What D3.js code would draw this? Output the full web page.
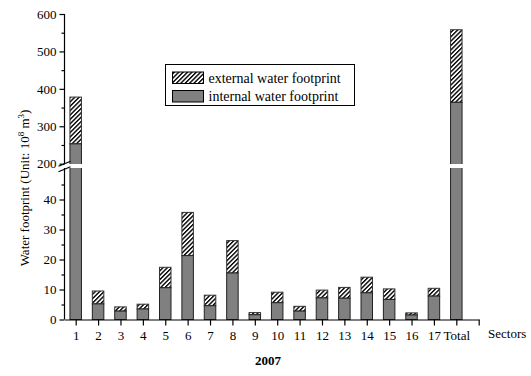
<!DOCTYPE html>
<html>
<head>
<meta charset="utf-8">
<script src="https://cdn.jsdelivr.net/npm/d3@7"></script>
<style>
  body { margin: 0; background: #fff; }
  svg text { font-family: "Liberation Serif", "Times New Roman", serif !important; fill: #000; }
</style>
</head>
<body>
<div id="canvas"></div>
<script>
// sector labels, position 19 is an empty end tick
var sectors = ["1","2","3","4","5","6","7","8","9","10","11","12","13","14","15","16","17","Total"];
var internalWF = [253, 5.2, 2.8, 3.5, 10.6, 21.3, 4.6, 15.5, 1.6, 5.6, 2.8, 7.2, 7.1, 8.9, 6.7, 1.5, 7.8, 364];
var totalWF    = [378, 9.5, 4.2, 5.1, 17.4, 35.7, 8.1, 26.3, 2.3, 9.1, 4.4, 9.8, 10.7, 14.1, 10.2, 2.2, 10.4, 558];
var lowTicks = [0, 10, 20, 30, 40];
var highTicks = [200, 300, 400, 500, 600];

var mydata = sectors.map(function(s, i){
	return {name: s, pos: i + 1, internal: internalWF[i], total: totalWF[i]};
});

draw();

function draw(){
	var w = 531, h = 376;
	var svg = d3.select("#canvas").append("svg")
				.attr("width", w)
				.attr("height", h);

	var x0 = 64.5, yBase = 319.5;
	var xScale = d3.scaleLinear().domain([0.5, 19]).range([x0, 478.7]);
	var yLow = d3.scaleLinear().domain([0, 50.5]).range([yBase, 168]);
	var yHigh = d3.scaleLinear().domain([199.2, 600]).range([164, 14]);
	var barW = 11.5;

	var defs = svg.append("defs");
	var pat = defs.append("pattern")
		.attr("id", "hatch")
		.attr("patternUnits", "userSpaceOnUse")
		.attr("width", 3.1).attr("height", 3.1)
		.attr("patternTransform", "rotate(45)");
	pat.append("rect").attr("width", 3.1).attr("height", 3.1).attr("fill", "#fff");
	pat.append("line").attr("x1", 0.7).attr("y1", 0).attr("x2", 0.7).attr("y2", 3.1)
		.attr("stroke", "#000").attr("stroke-width", 1.4);

	defs.append("clipPath").attr("id", "clipLow")
		.append("rect").attr("x", 0).attr("y", 168).attr("width", w).attr("height", yBase - 168 + 1);
	defs.append("clipPath").attr("id", "clipHigh")
		.append("rect").attr("x", 0).attr("y", 0).attr("width", w).attr("height", 164);

	// bars, drawn once per axis segment and clipped
	[[yLow, "clipLow"], [yHigh, "clipHigh"]].forEach(function(seg){
		var y = seg[0];
		var g = svg.append("g").attr("clip-path", "url(#" + seg[1] + ")");
		var bars = g.selectAll("g").data(mydata).join("g");
		bars.append("rect")
			.attr("x", function(d){ return xScale(d.pos) - barW / 2; })
			.attr("y", function(d){ return y(d.total); })
			.attr("width", barW)
			.attr("height", function(d){ return y(d.internal) - y(d.total); })
			.attr("fill", "url(#hatch)")
			.attr("stroke", "#333").attr("stroke-width", 1);
		bars.append("rect")
			.attr("x", function(d){ return xScale(d.pos) - barW / 2; })
			.attr("y", function(d){ return y(d.internal); })
			.attr("width", barW)
			.attr("height", function(d){ return Math.max(0, yBase - y(d.internal)); })
			.attr("fill", "#808080")
			.attr("stroke", "#222").attr("stroke-width", 1);
	});

	// y axis, lower part
	var axLow = svg.append("g").attr("transform", "translate(" + x0 + ",0)")
		.call(d3.axisLeft(yLow).tickValues(lowTicks).tickSize(5).tickPadding(3).tickSizeOuter(0));
	svg.append("g").attr("transform", "translate(" + x0 + ",0)")
		.call(d3.axisLeft(yLow).tickValues([5, 15, 25, 35, 45]).tickSize(3).tickFormat("").tickSizeOuter(0))
		.select(".domain").remove();
	// y axis, upper part
	var axHigh = svg.append("g").attr("transform", "translate(" + x0 + ",0)")
		.call(d3.axisLeft(yHigh).tickValues(highTicks).tickSize(5).tickPadding(3).tickSizeOuter(0));
	svg.append("g").attr("transform", "translate(" + x0 + ",0)")
		.call(d3.axisLeft(yHigh).tickValues([250, 350, 450, 550]).tickSize(3).tickFormat("").tickSizeOuter(0))
		.select(".domain").remove();
	[axLow, axHigh].forEach(function(a){
		a.attr("font-family", null).attr("font-size", 13);
		a.selectAll("path, line").attr("stroke", "#000").attr("stroke-width", 1.2);
	});
	axLow.select(".domain").attr("d", "M0," + yBase + "V168");
	axHigh.select(".domain").attr("d", "M0,164V14");
	svg.selectAll(".tick line").attr("stroke", "#000").attr("stroke-width", 1.2);

	// break marks
	[163.8, 169.3].forEach(function(yy){
		svg.append("line")
			.attr("x1", x0 - 6).attr("y1", yy + 2.5)
			.attr("x2", x0 + 6).attr("y2", yy - 2.5)
			.attr("stroke", "#000").attr("stroke-width", 1.2);
	});

	// x axis
	var xAxis = svg.append("g").attr("transform", "translate(0," + yBase + ")")
		.call(d3.axisBottom(xScale)
			.tickValues(d3.range(1, 20))
			.tickSize(6).tickPadding(5).tickSizeOuter(0)
			.tickFormat(function(v){ return v <= sectors.length ? sectors[v - 1] : ""; }));
	xAxis.attr("font-family", null).attr("font-size", 13);
	xAxis.selectAll("path, line").attr("stroke", "#000").attr("stroke-width", 1.2);

	svg.append("text").attr("x", 488).attr("y", 338)
		.style("font-size", "13px").text("Sectors");
	svg.append("text").attr("x", 268).attr("y", 365)
		.attr("text-anchor", "middle")
		.style("font-size", "13px").style("font-weight", "bold").text("2007");

	// y label with superscripts
	var yl = svg.append("text")
		.attr("transform", "translate(29,188) rotate(-90)")
		.attr("text-anchor", "middle")
		.style("font-size", "13px");
	yl.append("tspan").text("Water footprint (Unit: 10");
	yl.append("tspan").attr("dy", -5).style("font-size", "9px").text("8");
	yl.append("tspan").attr("dy", 5).text(" m");
	yl.append("tspan").attr("dy", -5).style("font-size", "9px").text("3");
	yl.append("tspan").attr("dy", 5).text(")");

	// legend
	var lg = svg.append("g");
	lg.append("rect").attr("x", 165.5).attr("y", 64.5).attr("width", 189).attr("height", 41)
		.attr("fill", "#fff").attr("stroke", "#000").attr("stroke-width", 1);
	var items = [["url(#hatch)", "external water footprint"], ["#808080", "internal water footprint"]];
	items.forEach(function(it, i){
		lg.append("rect").attr("x", 172.5).attr("y", 72 + i * 18.5)
			.attr("width", 31).attr("height", 11.5)
			.attr("fill", it[0]).attr("stroke", "#000").attr("stroke-width", 1);
		lg.append("text").attr("x", 208.5).attr("y", 82.5 + i * 18.5)
			.style("font-size", "14px").text(it[1]);
	});
}
</script>
</body>
</html>
